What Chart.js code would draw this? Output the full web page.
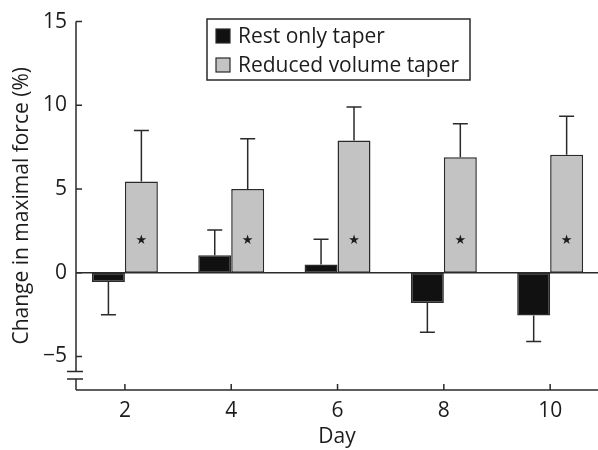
<!DOCTYPE html>
<html><head><meta charset="utf-8">
<script src="https://cdn.jsdelivr.net/npm/chart.js@4/dist/chart.umd.min.js"></script>
<style>html,body{margin:0;padding:0;background:#fff}#wrap{width:598px;height:450px}</style>
</head><body><div id="wrap"><canvas id="c" width="598" height="450"></canvas></div>
<script>
// ---- data ----
const days = [2, 4, 6, 8, 10];
const restOnly = [-0.55, 1.05, 0.5, -1.8, -2.55];
const restErr = [1.95, 1.5, 1.5, 1.75, 1.55];
const reducedVolume = [5.45, 5.0, 7.9, 6.9, 7.05];
const reducedErr = [3.05, 3.0, 2.0, 2.0, 2.3];
const significant = [true, true, true, true, true];
const yTicks = [-5, 0, 5, 10, 15];
const seriesLabels = ['Rest only taper', 'Reduced volume taper'];
const xTitle = 'Day';
const yTitle = 'Change in maximal force (%)';

// ---- styling ----
const FONT = '"Open Sans", sans-serif';
const INK = '#1c1c1c';
const LINE = '#2a2a2a';
const BLACK_FILL = '#111111';
const GRAY_FILL = '#c3c3c3';
const errs = [restErr, reducedErr];

const decorPlugin = {
  id: 'decor',
  afterDatasetsDraw(chart) {
    const ctx = chart.ctx, xs = chart.scales.x, ys = chart.scales.y, a = chart.chartArea;
    ctx.save();
    ctx.strokeStyle = LINE; ctx.lineWidth = 1.5; ctx.lineCap = 'butt';
    // error bars (one-sided, away from zero)
    chart.data.datasets.forEach((ds, di) => {
      const meta = chart.getDatasetMeta(di);
      meta.data.forEach((el, i) => {
        const v = ds.data[i].y, e = errs[di][i];
        const end = ys.getPixelForValue(v + (v >= 0 ? e : -e));
        ctx.beginPath();
        ctx.moveTo(el.x, el.y); ctx.lineTo(el.x, end);
        ctx.moveTo(el.x - 7.5, end); ctx.lineTo(el.x + 7.5, end);
        ctx.stroke();
      });
    });
    // zero line
    const y0 = ys.getPixelForValue(0);
    ctx.beginPath(); ctx.moveTo(a.left, y0); ctx.lineTo(chart.width, y0); ctx.stroke();
    // y axis with break
    const bA = ys.getPixelForValue(-5.9), bB = ys.getPixelForValue(-6.35);
    ctx.beginPath();
    ctx.moveTo(a.left, a.top); ctx.lineTo(a.left, bA);
    ctx.moveTo(a.left, bB); ctx.lineTo(a.left, a.bottom);
    ctx.moveTo(a.left - 9, bA); ctx.lineTo(a.left + 7, bA);
    ctx.moveTo(a.left - 9, bB); ctx.lineTo(a.left + 7, bB);
    ctx.stroke();
    // y ticks (inward)
    ctx.beginPath();
    yTicks.forEach(t => { const p = ys.getPixelForValue(t); ctx.moveTo(a.left, p); ctx.lineTo(a.left + 6, p); });
    ctx.stroke();
    // x axis + ticks (inward)
    ctx.beginPath();
    ctx.moveTo(a.left, a.bottom); ctx.lineTo(chart.width, a.bottom);
    days.forEach(d => { const p = xs.getPixelForValue(d); ctx.moveTo(p, a.bottom); ctx.lineTo(p, a.bottom - 6); });
    ctx.stroke();
    // significance stars
    const meta1 = chart.getDatasetMeta(1);
    ctx.fillStyle = INK; ctx.font = '13px "DejaVu Sans"'; ctx.textAlign = 'center'; ctx.textBaseline = 'middle';
    meta1.data.forEach((el, i) => { if (significant[i]) ctx.fillText('\u2605', el.x, ys.getPixelForValue(1.9)); });
    // legend
    const lx = 207, ly = 19, lw = 263, lh = 61;
    ctx.fillStyle = '#fff'; ctx.fillRect(lx, ly, lw, lh);
    ctx.lineWidth = 1.5; ctx.strokeStyle = LINE;
    ctx.strokeRect(lx, ly, lw, lh);
    const fills = [BLACK_FILL, GRAY_FILL];
    ctx.font = '21px ' + FONT; ctx.textAlign = 'left'; ctx.textBaseline = 'middle';
    seriesLabels.forEach((lab, i) => {
      const cy = ly + 17 + i * 29;
      ctx.fillStyle = fills[i]; ctx.fillRect(lx + 9, cy - 7, 14, 14);
      ctx.lineWidth = 1.2; ctx.strokeStyle = LINE; ctx.strokeRect(lx + 9, cy - 7, 14, 14);
      ctx.fillStyle = INK; ctx.fillText(lab, lx + 31, cy + 1);
    });
    ctx.restore();
  }
};

new Chart(document.getElementById('c'), {
  type: 'bar',
  data: {
    datasets: [
      { label: seriesLabels[0], data: days.map((d, i) => ({ x: d, y: restOnly[i] })),
        backgroundColor: BLACK_FILL, borderColor: LINE, borderWidth: 1.5, borderSkipped: false },
      { label: seriesLabels[1], data: days.map((d, i) => ({ x: d, y: reducedVolume[i] })),
        backgroundColor: GRAY_FILL, borderColor: LINE, borderWidth: 1.5, borderSkipped: false }
    ]
  },
  options: {
    responsive: false, devicePixelRatio: 1, animation: false,
    layout: { padding: { top: 20, left: 0, right: 0, bottom: 0 } },
    datasets: { bar: { categoryPercentage: 0.62, barPercentage: 1.0 } },
    plugins: { legend: { display: false }, tooltip: { enabled: false } },
    scales: {
      x: {
        type: 'linear', min: 1.08, max: 10.9, offset: false,
        grid: { display: false, drawTicks: false, offset: false }, border: { display: false },
        afterBuildTicks: s => { s.ticks = days.map(v => ({ value: v })); },
        afterFit: s => { s.height = 60; s.paddingRight = 0; s.paddingLeft = 0; },
        ticks: { font: { family: FONT, size: 21 }, color: INK, padding: 8 },
        title: { display: true, text: xTitle, font: { family: FONT, size: 21 }, color: INK, padding: { top: 0, bottom: 0 } }
      },
      y: {
        min: -7, max: 15,
        grid: { display: false, drawTicks: false }, border: { display: false },
        afterBuildTicks: s => { s.ticks = yTicks.map(v => ({ value: v })); },
        afterFit: s => { s.width = 76; },
        ticks: { font: { family: FONT, size: 21 }, color: INK, padding: 9,
                 callback: v => (v < 0 ? '\u2212' + Math.abs(v) : String(v)) },
        title: { display: true, text: yTitle, font: { family: FONT, size: 21 }, color: INK, padding: { top: 9, bottom: 0 } }
      }
    }
  },
  plugins: [decorPlugin]
});
</script>
</body></html>
